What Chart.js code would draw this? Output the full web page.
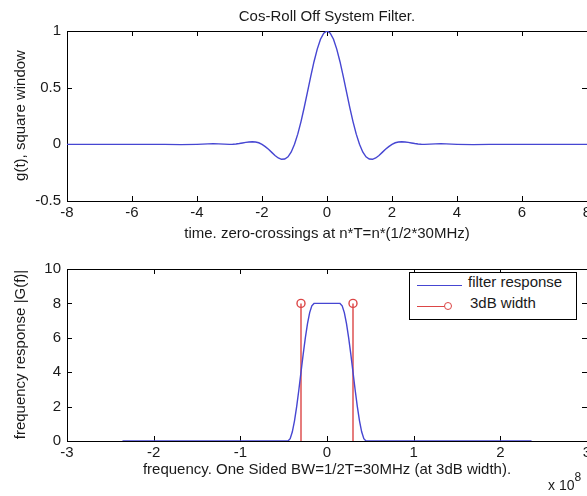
<!DOCTYPE html>
<html>
<head>
<meta charset="utf-8">
<script src="https://cdn.jsdelivr.net/npm/chart.js@4.4.0/dist/chart.umd.min.js"></script>
<style>
  body { margin: 0; background: #fff; }
  #page { position: relative; width: 587px; height: 496px; overflow: hidden; background: #fff; font-family: "Liberation Sans", Arial, sans-serif; color: #1a1a1a; }
  canvas { position: absolute; left: 0; }
  .txt { position: absolute; font-size: 15px; line-height: 15px; white-space: nowrap; }
  .center { width: 500px; text-align: center; }
  .rot { width: 260px; text-align: center; transform: rotate(-90deg); }
  #legend { position: absolute; left: 409px; top: 272px; width: 166px; height: 46px; border: 1px solid #000; background: #fff; z-index: 2; }
  .lg-line { position: absolute; height: 0; }
  .lg-dot { position: absolute; width: 6px; height: 6px; border: 1.4px solid rgb(220, 70, 70); border-radius: 50%; background: #fff; }
</style>
</head>
<body>
<div id="page">
  <canvas id="topChart" width="620" height="250" style="top:0px"></canvas>
  <canvas id="botChart" width="620" height="246" style="top:250px"></canvas>

  <div class="txt center" style="left:77px; top:8px;">Cos-Roll Off System Filter.</div>
  <div class="txt center" style="left:77px; top:225px;">time. zero-crossings at n*T=n*(1/2*30MHz)</div>
  <div class="txt center" style="left:77px; top:461px;">frequency. One Sided BW=1/2T=30MHz (at 3dB width).</div>
  <div class="txt" style="left:548px; top:478px; font-size:14px;">x 10<span style="position:relative; top:-9px; font-size:12px;">8</span></div>
  <div class="txt rot" style="left:-111px; top:108px;">g(t), square window</div>
  <div class="txt rot" style="left:-111px; top:347px;">frequency response |G(f)|</div>

  <div id="legend">
    <div class="lg-line" style="left:7px; top:12px; width:45px; border-top:1.5px solid rgb(70,70,210);"></div>
    <div class="txt" style="left:58px; top:1px;">filter response</div>
    <div class="lg-line" style="left:7px; top:33px; width:32px; border-top:1.5px solid rgb(220,70,70);"></div>
    <div class="lg-dot" style="left:34px; top:29px;"></div>
    <div class="txt" style="left:60px; top:22px;">3dB width</div>
  </div>
</div>

<script>
// top plot: time axis in units of T
const timeT = [-8, -7, -6, -5, -4.5, -4, -3.5, -3,
  -2.9, -2.8, -2.7, -2.6, -2.5, -2.4, -2.3, -2.2, -2.1, -2,
  -1.9, -1.8, -1.7, -1.6, -1.5, -1.4, -1.3, -1.2, -1.1, -1,
  -0.9, -0.8, -0.7, -0.6, -0.5, -0.4, -0.3, -0.2, -0.1, 0,
  0.1, 0.2, 0.3, 0.4, 0.5, 0.6, 0.7, 0.8, 0.9, 1,
  1.1, 1.2, 1.3, 1.4, 1.5, 1.6, 1.7, 1.8, 1.9, 2,
  2.1, 2.2, 2.3, 2.4, 2.5, 2.6, 2.7, 2.8, 2.9, 3,
  3.5, 4, 4.5, 5, 6, 7, 8];
const gValues = [0, 0, 0, 0, -0.003, 0, 0.006, 0,
  0.001, 0.003, 0.007, 0.012, 0.017, 0.021, 0.023, 0.021, 0.014, 0,
  -0.020, -0.044, -0.071, -0.098, -0.120, -0.132, -0.130, -0.110, -0.067, 0,
  0.090, 0.201, 0.327, 0.463, 0.600, 0.729, 0.840, 0.927, 0.981, 1,
  0.981, 0.927, 0.840, 0.729, 0.600, 0.463, 0.327, 0.201, 0.090, 0,
  -0.067, -0.110, -0.130, -0.132, -0.120, -0.098, -0.071, -0.044, -0.020, 0,
  0.014, 0.021, 0.023, 0.021, 0.017, 0.012, 0.007, 0.003, 0.001, 0,
  0.006, 0, -0.003, 0, 0, 0, 0];
const timeTicks = [-8, -6, -4, -2, 0, 2, 4, 6, 8];
const gTicks = [-0.5, 0, 0.5, 1];

// bottom plot: frequency in units of 10^8 Hz
const freqF = [-2.36, -0.45, -0.425, -0.4, -0.375, -0.35, -0.325, -0.3, -0.275, -0.25, -0.225, -0.2, -0.175, -0.15,
  0.15, 0.175, 0.2, 0.225, 0.25, 0.275, 0.3, 0.325, 0.35, 0.375, 0.4, 0.425, 0.45, 2.36];
const magG = [0, 0, 0.136, 0.536, 1.172, 2.0, 2.965, 4.0, 5.035, 6.0, 6.828, 7.464, 7.864, 8,
  8, 7.864, 7.464, 6.828, 6.0, 5.035, 4.0, 2.965, 2.0, 1.172, 0.536, 0.136, 0, 0];
const stemF = [-0.3, 0.3];
const stemH = [8, 8];
const freqTicks = [-3, -2, -1, 0, 1, 2, 3];
const magTicks = [0, 2, 4, 6, 8, 10];

const blue = "rgb(70, 70, 210)";
const red = "rgb(220, 70, 70)";
const tickFont = { family: "'Liberation Sans', Arial, sans-serif", size: 15, lineHeight: 1 };

// matlab style box with ticks pointing inwards
const boxPlugin = {
  id: "boxPlugin",
  beforeDatasetsDraw(chart) {
    const ctx = chart.ctx;
    const a = chart.chartArea;
    const xs = chart.scales.x;
    const ys = chart.scales.y;
    ctx.save();
    ctx.strokeStyle = "#000";
    ctx.lineWidth = 1;
    ctx.strokeRect(a.left + 0.5, a.top + 0.5, a.right - a.left, a.bottom - a.top);
    ctx.beginPath();
    xs.ticks.forEach(function (t) {
      var px = Math.round(xs.getPixelForValue(t.value)) + 0.5;
      ctx.moveTo(px, a.bottom); ctx.lineTo(px, a.bottom - 5);
      ctx.moveTo(px, a.top); ctx.lineTo(px, a.top + 5);
    });
    ys.ticks.forEach(function (t) {
      var py = Math.round(ys.getPixelForValue(t.value)) + 0.5;
      ctx.moveTo(a.left, py); ctx.lineTo(a.left + 5, py);
      ctx.moveTo(a.right, py); ctx.lineTo(a.right - 5, py);
    });
    ctx.stroke();
    ctx.restore();
  }
};

function axisOpts(min, max, values, axisSize, isX) {
  return {
    type: "linear",
    min: min,
    max: max,
    grid: { display: false, drawTicks: false },
    border: { display: false },
    afterBuildTicks: function (scale) {
      scale.ticks = values.map(function (v) { return { value: v }; });
    },
    afterFit: function (scale) {
      if (isX) scale.height = axisSize; else scale.width = axisSize;
    },
    ticks: {
      font: tickFont,
      color: "#1a1a1a",
      padding: isX ? 4 : 6,
      maxRotation: 0,
      autoSkip: false,
      callback: function (v) { return String(v); }
    }
  };
}

function baseOptions(padTop, xOpts, yOpts) {
  return {
    responsive: false,
    animation: false,
    devicePixelRatio: 1,
    events: [],
    layout: { padding: { left: 0, right: 33, top: padTop, bottom: 0 } },
    plugins: { legend: { display: false }, tooltip: { enabled: false } },
    scales: { x: xOpts, y: yOpts }
  };
}

const topPoints = timeT.map(function (t, i) { return { x: t, y: gValues[i] }; });
new Chart(document.getElementById("topChart"), {
  type: "line",
  data: {
    datasets: [{
      label: "g(t)",
      data: topPoints,
      borderColor: blue,
      borderWidth: 1.4,
      pointRadius: 0,
      fill: false
    }]
  },
  options: baseOptions(31, axisOpts(-8, 8, timeTicks, 49, true), axisOpts(-0.5, 1, gTicks, 67, false)),
  plugins: [boxPlugin]
});

const respPoints = freqF.map(function (f, i) { return { x: f, y: magG[i] }; });
const stemPoints = [];
stemF.forEach(function (f, i) {
  stemPoints.push({ x: f, y: 0 });
  stemPoints.push({ x: f, y: stemH[i] });
  stemPoints.push({ x: f, y: null });
});

new Chart(document.getElementById("botChart"), {
  type: "line",
  data: {
    datasets: [{
      label: "filter response",
      data: respPoints,
      borderColor: blue,
      borderWidth: 1.4,
      pointRadius: 0,
      fill: false
    }, {
      label: "3dB width",
      data: stemPoints,
      borderColor: red,
      borderWidth: 1.4,
      spanGaps: false,
      pointStyle: "circle",
      pointRadius: function (c) { return c.raw && c.raw.y > 0 ? 4 : 0; },
      pointBorderColor: red,
      pointBorderWidth: 1.4,
      pointBackgroundColor: "rgba(255,255,255,0)",
      fill: false
    }]
  },
  options: baseOptions(19, axisOpts(-3, 3, freqTicks, 55, true), axisOpts(0, 10, magTicks, 67, false)),
  plugins: [boxPlugin]
});
</script>
</body>
</html>
